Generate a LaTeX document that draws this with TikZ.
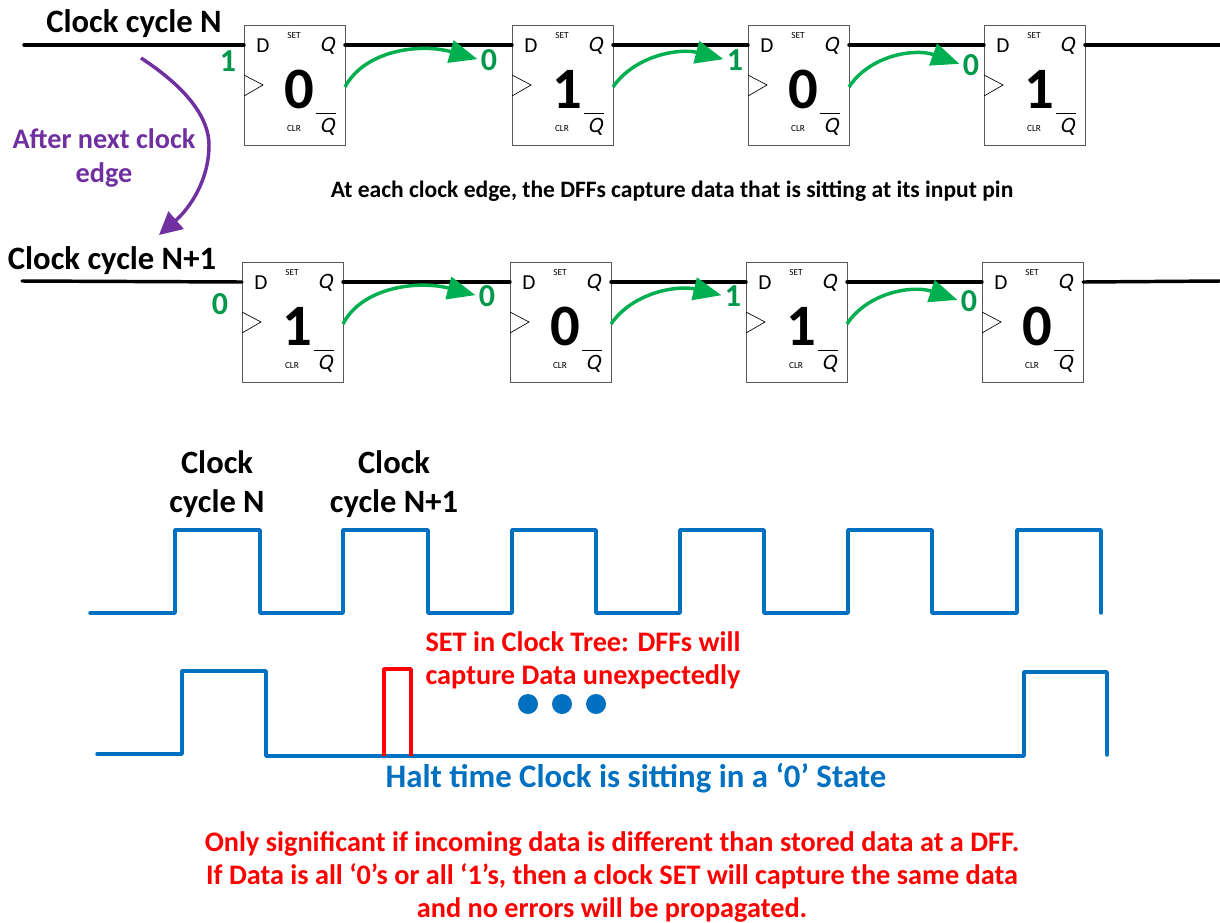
\documentclass[tikz,border=0pt]{standalone}
\usepackage{fontspec}
\setmainfont{Carlito}
\newfontfamily\qfont[FakeSlant=0.22]{Carlito}
\usetikzlibrary{arrows.meta,calc}
\definecolor{wavegreen}{HTML}{00B050}
\definecolor{valgreen}{HTML}{00994C}
\definecolor{pur}{HTML}{7030A0}
\definecolor{wave}{HTML}{0070C0}
\tikzset{
  ffbox/.style={draw=black!65,line width=0.8pt,minimum width=75.5pt,minimum height=90pt,inner sep=0pt,anchor=north west,fill=white},
  wire/.style={line width=2.6pt,line cap=round},
  greenarrow/.style={draw=wavegreen,line width=2.6pt,shorten >=2.5pt,-{Triangle[length=21pt,width=17pt]}},
  purplearrow/.style={draw=pur,line width=2.6pt,-{Triangle[length=17pt,width=17pt]}},
  valtext/.style={text=valgreen,font=\fontsize{24}{26}\selectfont\bfseries,inner sep=0pt},
  title/.style={font=\fontsize{24.5}{28}\selectfont\bfseries,inner sep=0pt},
  pinD/.style={font=\fontsize{16}{18}\selectfont,inner sep=0pt},
  pinQ/.style={font=\fontsize{16.5}{18}\selectfont\qfont,inner sep=0pt},
  pinS/.style={font=\fontsize{7}{8}\selectfont,inner sep=0pt},
  state/.style={font=\fontsize{44}{46}\selectfont\bfseries,inner sep=0pt},
  wavepath/.style={draw=wave,line width=2.6pt,line join=round,line cap=round},
  redpath/.style={draw=red,line width=2.6pt,line join=round},
  redtext/.style={text=red,font=\fontsize{21.2}{25}\selectfont\bfseries,align=center,inner sep=0pt},
  waveitem/.style={circle,fill=wave,minimum size=15pt,inner sep=0pt},
}
% #1 name, #2 x, #3 y, #4 stored bit
\newcommand{\dff}[4]{%
  \node[ffbox] (#1) at (#2,#3) {};
  \node[pinD] (#1d) at (#2+19,#3+21) {D};
  \node[pinS] (#1s) at (#2+50,#3+10) {SET};
  \node[pinQ] (#1q) at (#2+83,#3+21) {Q};
  \node[state] (#1v) at (#2+55,#3+64) {#4};
  \node[pinS] (#1c) at (#2+50,#3+103) {CLR};
  \node[pinQ] (#1n) at (#2+83,#3+102) {Q};
  \draw[line width=0.6pt] (#2+72,#3+88) -- (#2+92,#3+88);
  \draw[line width=0.5pt] (#2,#3+50) -- (#2+19,#3+60) -- (#2,#3+71);
  \coordinate (#1in) at (#2,#3+20);
  \coordinate (#1out) at (#2+101,#3+20);
  \coordinate (#1src) at (#2+101,#3+62);
}
\begin{document}
\begin{tikzpicture}[x=0.75pt,y=-0.75pt]
\useasboundingbox (0,0) rectangle (1220,922);
% row 1
\dff{a}{244}{25}{0}
\dff{b}{512}{25}{1}
\dff{c}{748}{25}{0}
\dff{d}{984}{25}{1}
\coordinate (as) at (24,45);
\coordinate (ae) at (1220,45);
\draw[wire] (as) -- (ain);
\draw[wire] (aout) -- (bin);
\draw[wire] (bout) -- (cin);
\draw[wire] (cout) -- (din);
\draw[wire] (dout) -- (ae);
\node[title] (t1) at (134,24) {Clock cycle N};
\node[valtext] (a0) at (228,61) {1};
\node[valtext] (b0) at (489,60) {0};
\node[valtext] (c0) at (735,60) {1};
\node[valtext] (d0) at (971,65) {0};
\draw[greenarrow] (asrc) .. controls (365,50) and (420,43) .. (b0.west);
\draw[greenarrow] (bsrc) .. controls (635,55) and (680,48) .. (c0.west);
\draw[greenarrow] (csrc) .. controls (870,55) and (915,48) .. (d0.west);
% row 2
\dff{e}{242}{262}{1}
\dff{f}{510}{262}{0}
\dff{g}{746}{262}{1}
\dff{h}{982}{262}{0}
\coordinate (es) at (22,281);
\coordinate (ee) at (1220,281);
\draw[wire] (es) -- (ein);
\draw[wire] (eout) -- (fin);
\draw[wire] (fout) -- (gin);
\draw[wire] (gout) -- (hin);
\draw[wire] (hout) -- (ee);
\node[title] (t2) at (112,261) {Clock cycle N+1};
\node[valtext] (e0) at (220,304) {0};
\node[valtext] (f0) at (487,296) {0};
\node[valtext] (g0) at (733,296) {1};
\node[valtext] (h0) at (969,301) {0};
\draw[greenarrow] (esrc) .. controls (362,287) and (418,280) .. (f0.west);
\draw[greenarrow] (fsrc) .. controls (633,292) and (678,285) .. (g0.west);
\draw[greenarrow] (gsrc) .. controls (868,292) and (913,285) .. (h0.west);
\node[font=\fontsize{17.65}{20}\selectfont\bfseries,inner sep=0pt] (note) at (672,191) {At each clock edge, the DFFs capture data that is sitting at its input pin};
% purple
\node[text=pur,font=\fontsize{21.2}{25}\selectfont\bfseries,align=center,inner sep=0pt] (after) at (104,158) {After next clock\\edge};
\coordinate (ps) at (141,58);
\coordinate (pe) at (159,235);
\draw[purplearrow] (ps) .. controls (190,90) and (209,120) .. (209,145) .. controls (209,180) and (190,208) .. (pe);
% clock labels
\node[font=\fontsize{24.4}{29}\selectfont\bfseries,align=center,inner sep=0pt] (cn) at (217,484) {Clock\\cycle N};
\node[font=\fontsize{24.4}{29}\selectfont\bfseries,align=center,inner sep=0pt] (cn1) at (394,484) {Clock\\cycle N+1};
% waves
\draw[wavepath] (90,613) -- (175,613) -- (175,530) -- (260,530) -- (260,613) -- (343,613) -- (343,530) -- (428,530) -- (428,613) -- (512,613) -- (512,530) -- (596,530) -- (596,613) -- (680,613) -- (680,530) -- (764,530) -- (764,613) -- (848,613) -- (848,530) -- (932,530) -- (932,613) -- (1017,613) -- (1017,530) -- (1101,530) -- (1101,613);
\draw[wavepath] (97,754) -- (182,754) -- (182,671) -- (266,671) -- (266,756) -- (1024,756) -- (1024,672) -- (1107,672) -- (1107,755);
\draw[redpath] (384,756) -- (384,669) -- (411,669) -- (411,756);
\node[redtext] (set) at (583,660) {SET in Clock Tree: DFFs will\\capture Data unexpectedly};
\node[waveitem] (d1) at (528,704) {};
\node[waveitem] (d2) at (562,704) {};
\node[waveitem] (d3) at (596,704) {};
\node[text=wave,font=\fontsize{24.6}{28}\selectfont\bfseries,inner sep=0pt] (halt) at (636,778) {Halt time Clock is sitting in a ‘0’ State};
\node[redtext] (only) at (612,877) {Only significant if incoming data is different than stored data at a DFF.\\If Data is all ‘0’s or all ‘1’s, then a clock SET will capture the same data\\and no errors will be propagated.};
\end{tikzpicture}
\end{document}
